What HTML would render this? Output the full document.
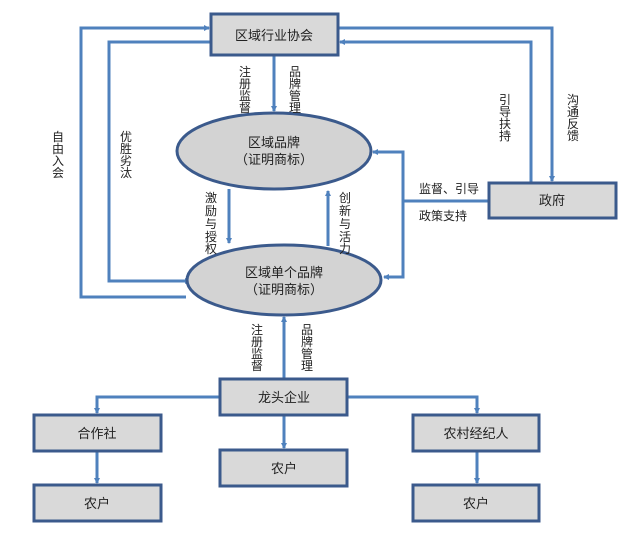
<!DOCTYPE html>
<html><head><meta charset="utf-8"><style>
html,body{margin:0;padding:0;background:#fff;}
svg{display:block;font-family:"Liberation Sans","Noto Sans CJK SC",sans-serif;}
</style></head><body>
<svg width="640" height="544" viewBox="0 0 640 544" xmlns="http://www.w3.org/2000/svg">
<defs>
<marker id="a" markerWidth="6" markerHeight="6" refX="5" refY="3" orient="auto" markerUnits="userSpaceOnUse"><path d="M0,0 L6,3 L0,6 z" fill="#4f81bd"/></marker>
</defs>
<g stroke="#4f81bd" stroke-width="3" fill="none">
<polyline points="186,297 81,297 81,28 209,28" marker-end="url(#a)"/>
<polyline points="211,42 109,42 109,281 190,281" marker-end="url(#a)"/>
<polyline points="338,28 552,28 552,181" marker-end="url(#a)"/>
<polyline points="531,183 531,42 340,42" marker-end="url(#a)"/>
<line x1="274" y1="56" x2="274" y2="111" marker-end="url(#a)"/>
<line x1="229" y1="189" x2="229" y2="243" marker-end="url(#a)"/>
<line x1="328" y1="246" x2="328" y2="191" marker-end="url(#a)"/>
<polyline points="489,201 403,201"/>
<polyline points="403,201 403,152 373,152" marker-end="url(#a)"/>
<polyline points="403,201 403,277 384,277" marker-end="url(#a)"/>
<line x1="284" y1="379" x2="284" y2="317" marker-end="url(#a)"/>
<polyline points="220,397 97,397 97,413" marker-end="url(#a)"/>
<polyline points="347,397 477,397 477,413" marker-end="url(#a)"/>
<line x1="284" y1="415" x2="284" y2="448" marker-end="url(#a)"/>
<line x1="97" y1="451" x2="97" y2="483" marker-end="url(#a)"/>
<line x1="477" y1="451" x2="477" y2="483" marker-end="url(#a)"/>
</g>
<g fill="#d9d9d9" stroke="#3b5a8c" stroke-width="3">
<rect x="211" y="14" width="127" height="41"/>
<rect x="489" y="183" width="127" height="35"/>
<rect x="220" y="379" width="127" height="36"/>
<rect x="34" y="415" width="127" height="36"/>
<rect x="34" y="485" width="127" height="36"/>
<rect x="220" y="450" width="127" height="36"/>
<rect x="413" y="415" width="126" height="36"/>
<rect x="413" y="485" width="126" height="36"/>
<ellipse cx="274" cy="151" rx="97" ry="38" fill="#d3d3d3"/>
<ellipse cx="284" cy="280" rx="97" ry="35" fill="#d3d3d3"/>
</g>
<g font-size="13" fill="#222" text-anchor="middle">
<text x="274" y="40">区域行业协会</text>
<text x="552" y="205">政府</text>
<text x="284" y="402">龙头企业</text>
<text x="97" y="438">合作社</text>
<text x="97" y="508">农户</text>
<text x="284" y="473">农户</text>
<text x="476" y="438">农村经纪人</text>
<text x="476" y="508">农户</text>
<text x="274" y="147">区域品牌</text>
<text x="274" y="164">（证明商标）</text>
<text x="284" y="277">区域单个品牌</text>
<text x="284" y="294">（证明商标）</text>
</g>
<g font-size="12" fill="#222" text-anchor="middle">
<text x="449" y="193">监督、引导</text>
<text x="443" y="220">政策支持</text>
<text x="245" y="76">注</text><text x="245" y="88">册</text><text x="245" y="100">监</text><text x="245" y="112">督</text>
<text x="295" y="76">品</text><text x="295" y="88">牌</text><text x="295" y="100">管</text><text x="295" y="112">理</text>
<text x="211" y="202">激</text><text x="211" y="215">励</text><text x="211" y="228">与</text><text x="211" y="241">授</text><text x="211" y="253">权</text>
<text x="345" y="202">创</text><text x="345" y="215">新</text><text x="345" y="228">与</text><text x="345" y="241">活</text><text x="345" y="253">力</text>
<text x="58" y="141">自</text><text x="58" y="153">由</text><text x="58" y="165">入</text><text x="58" y="177">会</text>
<text x="126" y="141">优</text><text x="126" y="153">胜</text><text x="126" y="165">劣</text><text x="126" y="177">汰</text>
<text x="505" y="104">引</text><text x="505" y="116">导</text><text x="505" y="128">扶</text><text x="505" y="140">持</text>
<text x="573" y="104">沟</text><text x="573" y="116">通</text><text x="573" y="128">反</text><text x="573" y="140">馈</text>
<text x="257" y="334">注</text><text x="257" y="346">册</text><text x="257" y="358">监</text><text x="257" y="370">督</text>
<text x="307" y="334">品</text><text x="307" y="346">牌</text><text x="307" y="358">管</text><text x="307" y="370">理</text>
</g>
</svg>
</body></html>
